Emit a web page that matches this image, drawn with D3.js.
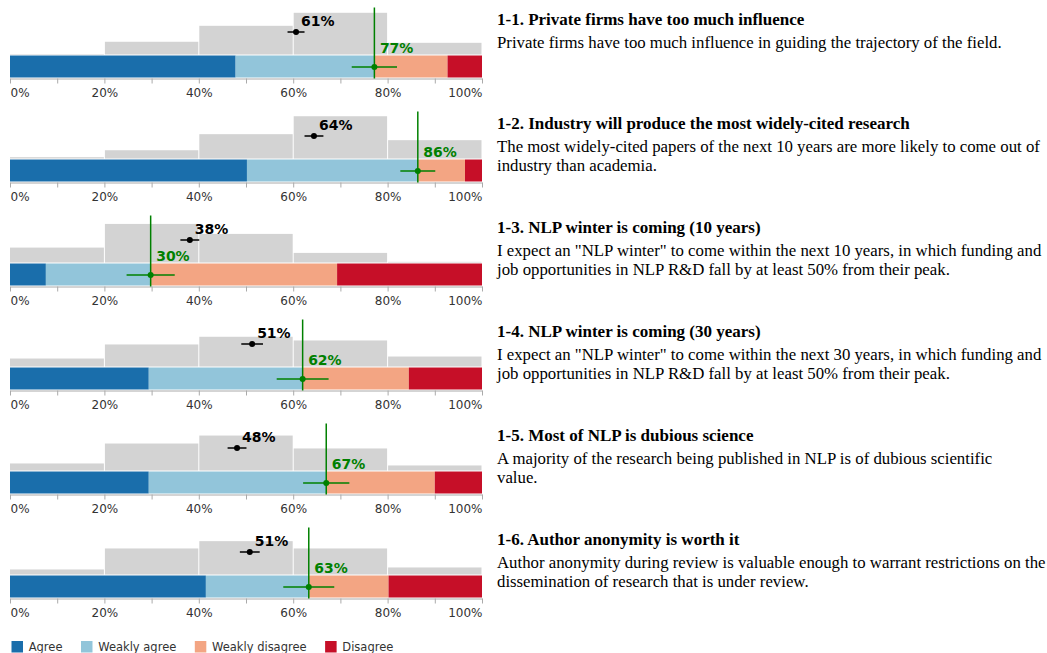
<!DOCTYPE html>
<html><head><meta charset="utf-8">
<script src="https://cdn.jsdelivr.net/npm/d3@7"></script>
<style>
body{margin:0;background:#fff}
svg{display:block;background:#fff}
</style>
</head><body>
<svg id="c" width="1047" height="653"></svg>
<script>
// ---------- data ----------
const titles = [
  "1-1. Private firms have too much influence",
  "1-2. Industry will produce the most widely-cited research",
  "1-3. NLP winter is coming (10 years)",
  "1-4. NLP winter is coming (30 years)",
  "1-5. Most of NLP is dubious science",
  "1-6. Author anonymity is worth it"
];
const descriptions = [
  ["Private firms have too much influence in guiding the trajectory of the field."],
  ["The most widely-cited papers of the next 10 years are more likely to come out of", "industry than academia."],
  ["I expect an \"NLP winter\" to come within the next 10 years, in which funding and", "job opportunities in NLP R&D fall by at least 50% from their peak."],
  ["I expect an \"NLP winter\" to come within the next 30 years, in which funding and", "job opportunities in NLP R&D fall by at least 50% from their peak."],
  ["A majority of the research being published in NLP is of dubious scientific", "value."],
  ["Author anonymity during review is valuable enough to warrant restrictions on the", "dissemination of research that is under review."]
];
const categories = ["Agree", "Weakly agree", "Weakly disagree", "Disagree"];
const agree          = [47.8, 50.2,  7.6, 29.4, 29.4, 41.5];
const weaklyAgree    = [29.4, 36.2, 22.2, 32.6, 37.6, 21.8];
const weaklyDisagree = [15.5, 10.0, 39.5, 22.5, 23.0, 16.9];
const disagree       = [ 7.3,  3.6, 30.7, 15.5, 10.0, 19.8];
const actualError    = [4.8, 3.7, 5.1, 5.5, 4.9, 5.4];
const predictedMean  = [60.6, 64.4, 38.1, 51.3, 48.1, 50.8];
const predictedError = [1.8, 2.0, 2.0, 2.3, 2.0, 2.1];
const binEdges = [0, 20, 40, 60, 80, 100];
const predictionHist = [
  [ 0.5, 13.4, 30.2, 43.9, 12.3],
  [ 1.4,  8.7, 25.6, 44.5, 19.3],
  [15.7, 40.6, 30.1, 10.1,  0.7],
  [ 8.4, 23.2, 31.3, 27.4, 10.5],
  [ 7.4, 28.4, 36.8, 23.2,  5.3],
  [ 5.3, 27.4, 35.1, 27.4,  7.4]
];
const tickValues = [0, 10, 20, 30, 40, 50, 60, 70, 80, 90, 100];
const tickLabels = ["0%", "", "20%", "", "40%", "", "60%", "", "80%", "", "100%"];
const colors = ["#1a6eab", "#92c5da", "#f3a583", "#c60f28"];

// ---------- drawing ----------
const svg = d3.select("#c");
const sans = "Verdana, 'DejaVu Sans', sans-serif";
const serif = "'Liberation Serif', 'Times New Roman', serif";
const x = d3.scaleLinear().domain([0, 100]).range([10, 482]);
const hy = d3.scaleLinear().domain([0, 100]).range([0, 95]);
const green = "#008000";

const series = [agree, weaklyAgree, weaklyDisagree, disagree];

titles.forEach((title, i) => {
  const axisY = 78.5 + 104 * i;
  const g = svg.append("g");

  // histogram of predictions
  const base = axisY - 24;
  g.selectAll("rect.hist").data(predictionHist[i]).join("rect")
    .attr("class", "hist")
    .attr("x", (d, k) => x(binEdges[k]) + (k === 0 ? 0 : 0.5))
    .attr("width", (d, k) => x(binEdges[k + 1]) - x(binEdges[k]) - (k === 0 ? 0.5 : 1))
    .attr("y", d => base - hy(d))
    .attr("height", d => hy(d))
    .attr("fill", "#d3d3d3");

  // stacked bar
  let cum = 0;
  const segs = series.map((s, k) => { const o = {k, x0: cum, x1: cum + s[i]}; cum += s[i]; return o; });
  g.selectAll("rect.seg").data(segs).join("rect")
    .attr("class", "seg")
    .attr("x", d => x(d.x0))
    .attr("width", d => x(d.x1) - x(d.x0))
    .attr("y", axisY - 23)
    .attr("height", 22)
    .attr("fill", d => colors[d.k]);

  // axis
  const axis = d3.axisBottom(x).tickValues(tickValues)
    .tickFormat((d, k) => tickLabels[k]).tickSize(5).tickSizeOuter(0);
  const ag = g.append("g").attr("transform", `translate(0,${axisY})`).call(axis);
  ag.select(".domain").attr("stroke", "#aaa");
  ag.selectAll(".tick line").attr("stroke", "#aaa");
  ag.selectAll(".tick text")
    .attr("y", 18).attr("dy", null)
    .attr("fill", "#333")
    .style("font-family", sans).style("font-size", "12px")
    .attr("text-anchor", (d) => d === 0 ? "start" : (d === 100 ? "end" : "middle"));

  // actual agreement (green)
  const actual = agree[i] + weaklyAgree[i];
  const ax = x(actual);
  g.append("line").attr("x1", ax).attr("x2", ax).attr("y1", axisY - 71).attr("y2", axisY)
    .attr("stroke", green).attr("stroke-width", 1.5);
  const gy = axisY - 11.5;
  g.append("line").attr("x1", x(actual - actualError[i])).attr("x2", x(actual + actualError[i]))
    .attr("y1", gy).attr("y2", gy).attr("stroke", green).attr("stroke-width", 1.5);
  g.append("circle").attr("cx", ax).attr("cy", gy).attr("r", 3).attr("fill", green);
  g.append("text").attr("x", ax + 5.5).attr("y", axisY - 25.5)
    .attr("fill", green).style("font-family", sans).style("font-size", "14px").style("font-weight", "bold")
    .text(Math.round(actual) + "%");

  // predicted (black)
  const px = x(predictedMean[i]);
  const py = axisY - 46.5;
  g.append("line").attr("x1", x(predictedMean[i] - predictedError[i])).attr("x2", x(predictedMean[i] + predictedError[i]))
    .attr("y1", py).attr("y2", py).attr("stroke", "#000").attr("stroke-width", 1.5);
  g.append("circle").attr("cx", px).attr("cy", py).attr("r", 3).attr("fill", "#000");
  g.append("text").attr("x", px + 5).attr("y", py - 6)
    .attr("fill", "#000").style("font-family", sans).style("font-size", "14px").style("font-weight", "bold")
    .text(Math.round(predictedMean[i]) + "%");

  // right-hand text
  g.append("text").attr("x", 497).attr("y", axisY - 53.3)
    .style("font-family", serif).style("font-size", "17px").style("font-weight", "bold").attr("fill", "#000")
    .text(title);
  const t = g.append("text").attr("x", 497).attr("y", axisY - 30.3)
    .style("font-family", serif).style("font-size", "16.8px").attr("fill", "#000");
  t.selectAll("tspan").data(descriptions[i]).join("tspan")
    .attr("x", 497).attr("dy", (d, k) => k === 0 ? 0 : 19).text(d => d);
});

// legend
const leg = svg.append("g").attr("transform", "translate(11.5,641)");
let lx = 0;
categories.forEach((c, k) => {
  leg.append("rect").attr("x", lx).attr("y", 0).attr("width", 11.5).attr("height", 11.5).attr("fill", colors[k]);
  const tx = leg.append("text").attr("x", lx + 17.2).attr("y", 9.5)
    .style("font-family", sans).style("font-size", "11.5px").attr("fill", "#333").text(c);
  lx = lx + 17.2 + tx.node().getComputedTextLength() + 18.5;
});
</script>
</body></html>
